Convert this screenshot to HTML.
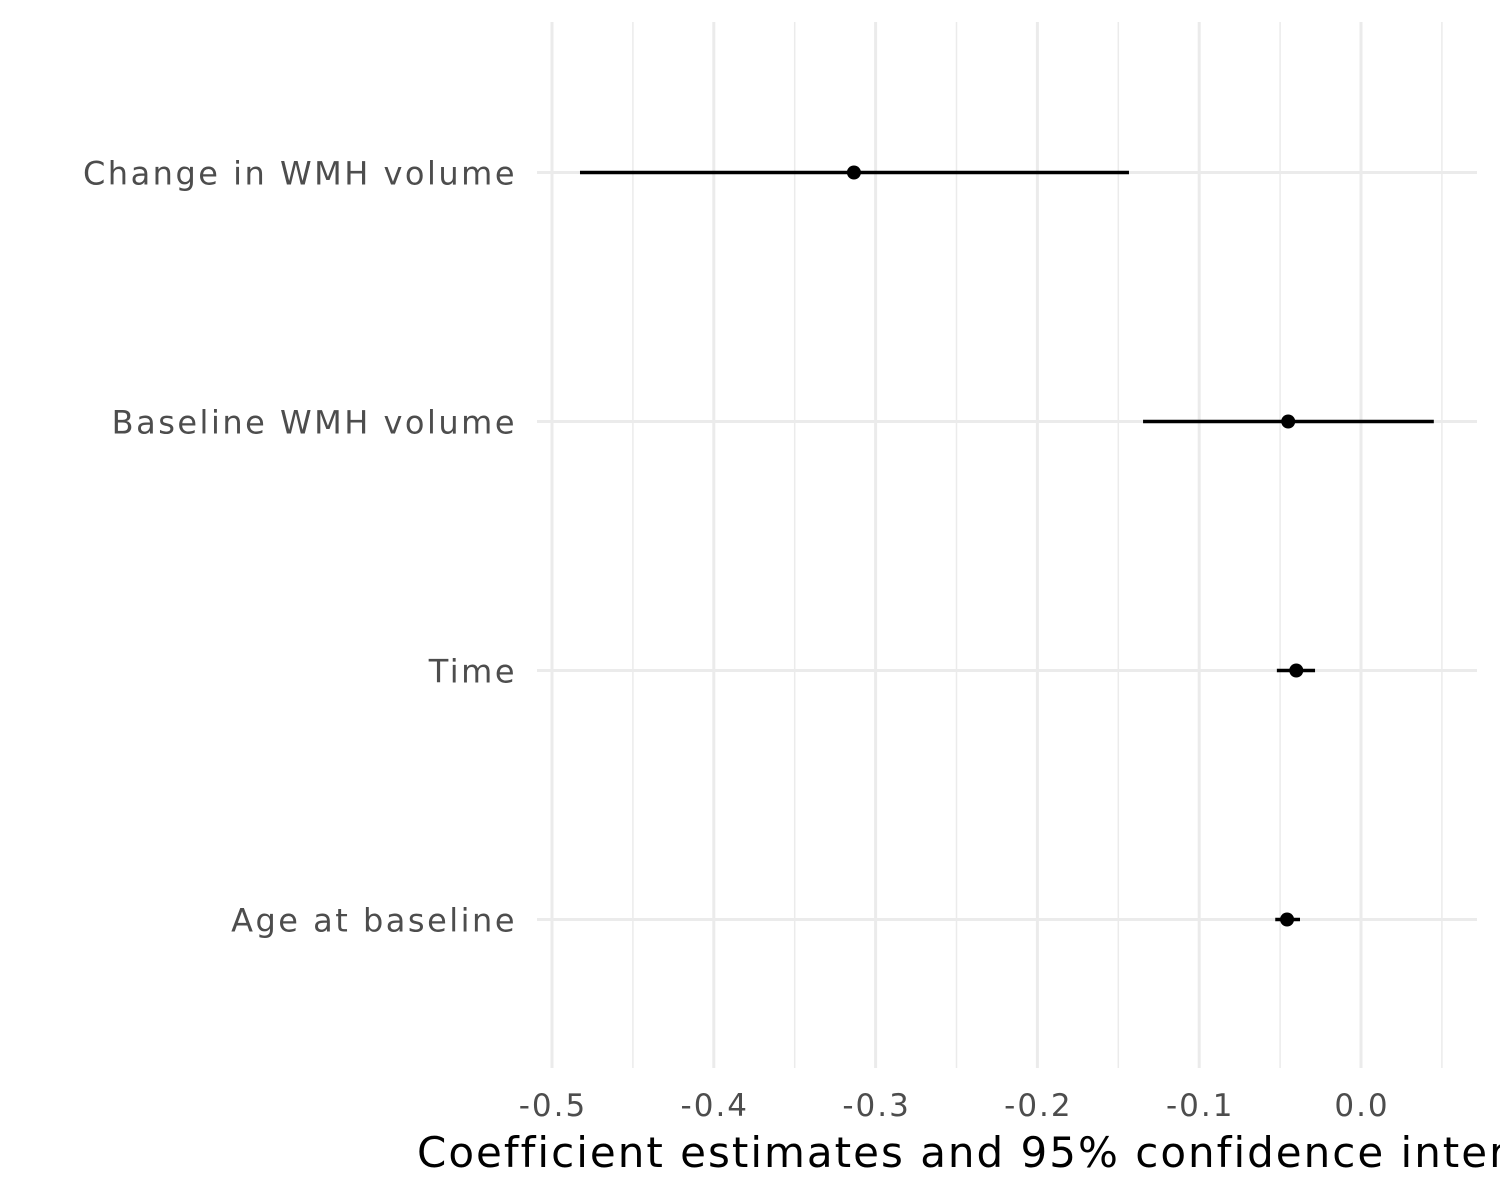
<!DOCTYPE html>
<html><head><meta charset="utf-8"><style>
html,body{margin:0;padding:0;background:#fff;width:1500px;height:1200px;overflow:hidden}
svg{display:block;font-family:"DejaVu Sans","Liberation Sans",sans-serif}
</style></head><body>
<svg id="chart" width="1500" height="1200" viewBox="0 0 1500 1200">
<g id="grid"></g>
<g id="ylabels"></g>
<g id="xlabels"></g>
<g id="marks"></g>
<text x="417" y="1167" font-size="42" letter-spacing="2" fill="#000">Coefficient estimates and 95% confidence intervals</text>
</svg>
<script>
const categories = ["Change in WMH volume","Baseline WMH volume","Time","Age at baseline"];
const estimates = [-0.3134,-0.045,-0.040,-0.0457];
const lowers = [-0.4827,-0.1347,-0.052,-0.053];
const uppers = [-0.1434,0.045,-0.0284,-0.0377];
const majorTicks = [-0.5,-0.4,-0.3,-0.2,-0.1,0.0];
const tickLabels = ["-0.5","-0.4","-0.3","-0.2","-0.1","0.0"];
const minorTicks = [-0.45,-0.35,-0.25,-0.15,-0.05,0.05];
(function(){
const NS="http://www.w3.org/2000/svg";
const xs=v=>1361+v*1618;
const ys=i=>172.5+i*249;
const pTop=22,pBottom=1068,pLeft=537,pRight=1477;
function mk(tag,attrs,parent){const e=document.createElementNS(NS,tag);for(const k in attrs)e.setAttribute(k,attrs[k]);parent.appendChild(e);return e;}
const grid=document.getElementById('grid'),yl=document.getElementById('ylabels'),xl=document.getElementById('xlabels'),marks=document.getElementById('marks');
minorTicks.forEach(t=>{const l=mk('line',{x1:xs(t),x2:xs(t),y1:pTop,y2:pBottom,stroke:'#ebebeb','stroke-width':1.5},grid);

});
majorTicks.forEach((t,i)=>{const l=mk('line',{x1:xs(t),x2:xs(t),y1:pTop,y2:pBottom,stroke:'#ebebeb','stroke-width':3},grid);


const tx=mk('text',{x:xs(t)+1,y:1116,'text-anchor':'middle','font-size':31,'letter-spacing':2,fill:'#4d4d4d'},xl);tx.textContent=tickLabels[i];

});
categories.forEach((c,i)=>{const y=ys(i);
const l=mk('line',{x1:pLeft,x2:pRight,y1:y,y2:y,stroke:'#ebebeb','stroke-width':3},grid);


const tx=mk('text',{x:517,y:y+12,'text-anchor':'end','font-size':32,'letter-spacing':2.5,fill:'#4d4d4d'},yl);tx.textContent=c;


const ci=mk('line',{x1:xs(lowers[i]),x2:xs(uppers[i]),y1:y,y2:y,stroke:'#000','stroke-width':3.5},marks);


const p=mk('circle',{cx:xs(estimates[i]),cy:y,r:7,fill:'#000'},marks);

});
})();
</script>
</body></html>
